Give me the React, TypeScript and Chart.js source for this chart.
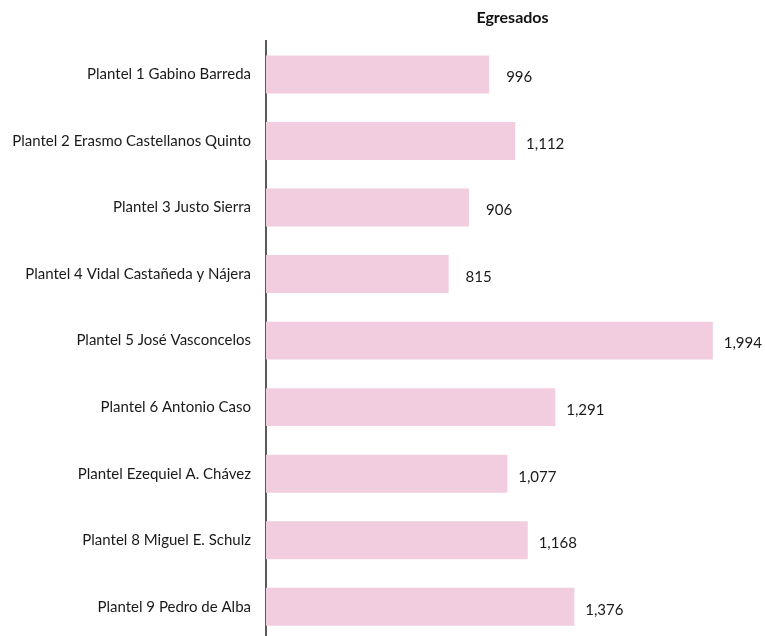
import React, { useEffect, useRef } from "react";
import { Chart, registerables } from "chart.js";

Chart.register(...registerables);

const categories: string[] = [
  "Plantel 1 Gabino Barreda",
  "Plantel 2 Erasmo Castellanos Quinto",
  "Plantel 3 Justo Sierra",
  "Plantel 4 Vidal Castañeda y Nájera",
  "Plantel 5 José Vasconcelos",
  "Plantel 6 Antonio Caso",
  "Plantel Ezequiel A. Chávez",
  "Plantel 8 Miguel E. Schulz",
  "Plantel 9 Pedro de Alba",
];
const egresados: number[] = [996, 1112, 906, 815, 1994, 1291, 1077, 1168, 1376];
const seriesLabel = "Egresados";
const xMax = 2200;

const FONT = "Lato, 'Open Sans', 'DejaVu Sans', sans-serif";

const valueLabels = {
  id: "valueLabels",
  afterDatasetsDraw(chart: any) {
    const ctx = chart.ctx;
    const meta = chart.getDatasetMeta(0);
    ctx.save();
    ctx.font = `15px ${FONT}`;
    ctx.fillStyle = "#1a1a1a";
    ctx.textAlign = "center";
    ctx.textBaseline = "middle";
    meta.data.forEach((el: any, i: number) => {
      const v = chart.data.datasets[0].data[i] as number;
      ctx.fillText(v.toLocaleString("en-US"), el.x + 30, el.y + 3);
    });
    ctx.restore();
  },
};

export default function App() {
  const ref = useRef<HTMLCanvasElement | null>(null);
  useEffect(() => {
    if (!ref.current) return;
    const chart = new Chart(ref.current, {
      type: "bar",
      data: {
        labels: categories,
        datasets: [
          {
            label: seriesLabel,
            data: egresados,
            backgroundColor: "#f1cddf",
            borderWidth: 0,
            barPercentage: 0.57,
            categoryPercentage: 1,
          },
        ],
      },
      options: {
        indexAxis: "y",
        animation: false,
        responsive: false,
        maintainAspectRatio: false,
        layout: { padding: { left: 0, right: 6, top: 0, bottom: 0 } },
        plugins: {
          legend: { display: false },
          tooltip: { enabled: false },
          title: {
            display: true,
            text: seriesLabel,
            fullSize: false,
            color: "#111",
            font: { family: FONT, size: 16, weight: "bold" },
            padding: { top: 8, bottom: 14 },
          },
        },
        scales: {
          x: {
            display: false,
            min: 0,
            max: xMax,
          },
          y: {
            afterFit: (s: any) => {
              s.width = 266;
            },
            grid: { display: false, drawTicks: false },
            border: { display: true, color: "#5a5a5a", width: 2 },
            ticks: {
              color: "#1a1a1a",
              padding: 15,
              font: { family: FONT, size: 15 },
            },
          },
        },
      },
      plugins: [valueLabels],
    });
    return () => chart.destroy();
  }, []);
  return (
    <div
      style={{
        position: "fixed",
        left: 0,
        top: 0,
        width: 765,
        height: 636,
        overflow: "hidden",
        background: "#fff",
      }}
    >
      <canvas ref={ref} width={765} height={664} style={{ display: "block" }} />
    </div>
  );
}
